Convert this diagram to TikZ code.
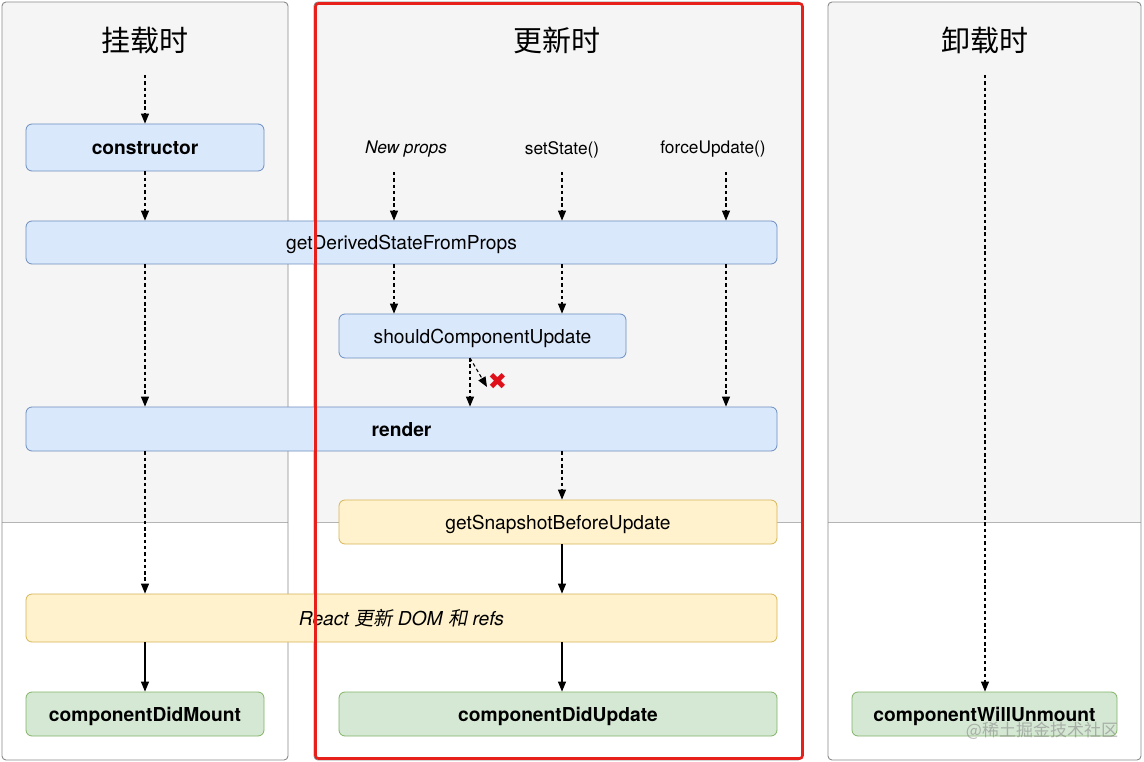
\documentclass[tikz,border=0pt]{standalone}
\usepackage{fontspec}
\setmainfont{TeX Gyre Heros}
\newfontfamily\cjk{Noto Sans CJK SC}
\newfontfamily\cjkit{Noto Sans CJK SC}[FakeSlant=0.2]
\newfontfamily\sym{DejaVu Sans}
\usetikzlibrary{arrows.meta}
\definecolor{panelgray}{HTML}{F5F5F5}
\definecolor{panelborder}{HTML}{8A8A8A}
\definecolor{sepline}{HTML}{B4B4B4}
\definecolor{bluefill}{HTML}{DAE8FC}
\definecolor{blueline}{HTML}{6C8EBF}
\definecolor{yelfill}{HTML}{FFF2CC}
\definecolor{yelline}{HTML}{D6B656}
\definecolor{grnfill}{HTML}{D5E8D4}
\definecolor{grnline}{HTML}{82B366}
\definecolor{redline}{HTML}{E8201C}
\definecolor{crossred}{HTML}{E0101A}
\begin{document}
\begin{tikzpicture}[x=1pt,y=-1pt,
  box/.style={rounded corners=6, line width=0.8pt, inner sep=0pt, text height=14.5pt, text depth=0pt, font=\fontsize{19.2}{23}\selectfont},
  bluebox/.style={box, fill=bluefill, draw=blueline},
  yelbox/.style={box, fill=yelfill, draw=yelline},
  grnbox/.style={box, fill=grnfill, draw=grnline},
  title/.style={font=\cjk\fontsize{29}{34}\selectfont, inner sep=0pt},
  lbl/.style={font=\fontsize{17.3}{20}\selectfont, inner sep=0pt},
  dar/.style={line width=1.1pt, dash pattern=on 3.5pt off 2.8pt, -{Triangle[length=10pt,width=8pt]}},
  sar/.style={line width=1.1pt, -{Triangle[length=10pt,width=8pt]}},
  panel/.style={draw=panelborder, line width=0.9pt, rounded corners=4}
]
\useasboundingbox (0,0) rectangle (1144,762);
\fill[white] (0,0) rectangle (1144,762);

% panels
\fill[panelgray] (2,522) [rounded corners=4] -- (2,2) -- (288,2) [sharp corners] -- (288,522) -- cycle;
\draw[sepline, line width=0.9pt] (2,522) -- (288,522);
\draw[panel] (2,2) rectangle (288,760);

\fill[panelgray] (314,522) [rounded corners=4] -- (314,2) -- (802,2) [sharp corners] -- (802,522) -- cycle;
\draw[sepline, line width=0.9pt] (314,522) -- (802,522);
\draw[panel] (314,2) rectangle (802,760);

\fill[panelgray] (828,522) [rounded corners=4] -- (828,2) -- (1141,2) [sharp corners] -- (1141,522) -- cycle;
\draw[sepline, line width=0.9pt] (828,522) -- (1141,522);
\draw[panel] (828,2) rectangle (1141,760);

% titles
\node[title] (t1) at (145,40) {挂载时};
\node[title] (t2) at (557,40) {更新时};
\node[title] (t3) at (985,40) {卸载时};

% labels
\node[lbl] (np) at (406,149.5) {\itshape New props};
\node[lbl] (ss) at (562,149.5) {setState()};
\node[lbl] (fu) at (713,149.5) {forceUpdate()};

% boxes
\node[bluebox, minimum width=238pt, minimum height=47pt] (ctor) at (145,147.5) {\bfseries constructor};
\node[bluebox, minimum width=751pt, minimum height=43pt] (gd) at (401.5,242.5) {getDerivedStateFromProps};
\node[bluebox, minimum width=287pt, minimum height=44pt] (scu) at (482.5,336) {shouldComponentUpdate};
\node[bluebox, minimum width=751pt, minimum height=44pt] (rd) at (401.5,429) {\bfseries render};
\node[yelbox, minimum width=438pt, minimum height=44pt] (gsbu) at (558,522) {getSnapshotBeforeUpdate};
\node[yelbox, minimum width=751pt, minimum height=48pt] (rx) at (401.5,618) {\itshape React {\cjkit 更新} DOM {\cjkit 和} refs};
\node[grnbox, minimum width=238pt, minimum height=44pt] (cdm) at (145,714) {\bfseries componentDidMount};
\node[grnbox, minimum width=438pt, minimum height=44pt] (cdu) at (558,714) {\bfseries componentDidUpdate};
\node[grnbox, minimum width=265pt, minimum height=44pt] (cwu) at (984.5,714) {\bfseries componentWillUnmount};

% coordinates for arrow columns
\coordinate (s1) at (145,75);
\coordinate (a1) at (394,172);
\coordinate (a2) at (562,172);
\coordinate (a3) at (726,172);
\coordinate (b1) at (470,358);
\coordinate (b2) at (487,387);
\coordinate (r1) at (985,75);

% mount column
\draw[dar] (s1) -- (ctor.north);
\draw[dar] (ctor.south) -- (ctor.south |- gd.north);
\draw[dar] (ctor.south |- gd.south) -- (ctor.south |- rd.north);
\draw[dar] (ctor.south |- rd.south) -- (ctor.south |- rx.north);
\draw[sar] (ctor.south |- rx.south) -- (cdm.north);

% update column
\draw[dar] (a1) -- (a1 |- gd.north);
\draw[dar] (a1 |- gd.south) -- (a1 |- scu.north);
\draw[dar] (a2) -- (a2 |- gd.north);
\draw[dar] (a2 |- gd.south) -- (a2 |- scu.north);
\draw[dar] (a3) -- (a3 |- gd.north);
\draw[dar] (a3 |- gd.south) -- (a3 |- rd.north);
\draw[dar] (b1) -- (b1 |- rd.north);
\draw[dar] (b1) -- (b2);
\node[font=\sym\fontsize{23}{24}\selectfont\bfseries, text=crossred, inner sep=0pt] (x) at (497.5,381) {✖};
\draw[dar] (a2 |- rd.south) -- (a2 |- gsbu.north);
\draw[sar] (a2 |- gsbu.south) -- (a2 |- rx.north);
\draw[sar] (a2 |- rx.south) -- (a2 |- cdu.north);

% unmount column
\draw[dar] (r1) -- (r1 |- cwu.north);

% watermark
\node[font=\cjk\fontsize{17}{20}\selectfont, text=gray, opacity=0.55, inner sep=0pt] (wm) at (1042,731) {@稀土掘金技术社区};

% red highlight
\draw[redline, line width=2.6pt, rounded corners=3] (315.5,3.5) rectangle (802.5,758.5);
\end{tikzpicture}
\end{document}
